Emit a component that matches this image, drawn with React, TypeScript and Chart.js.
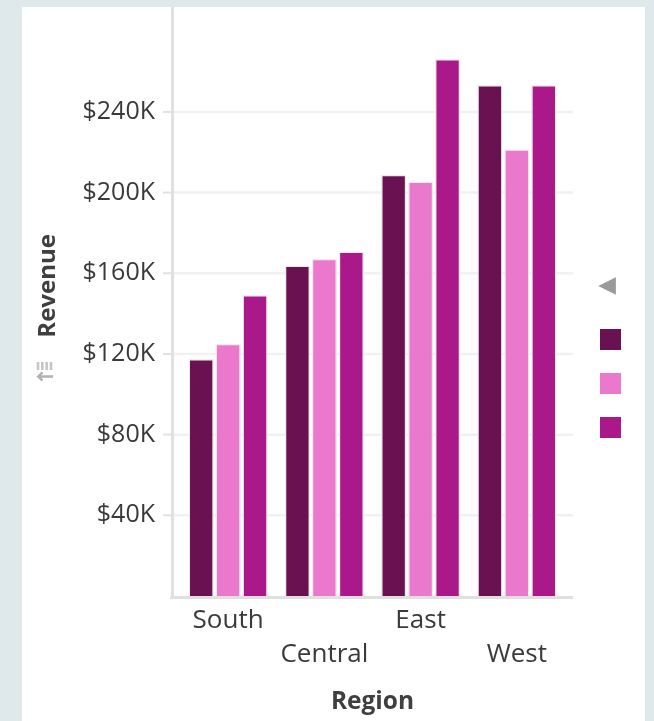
import React, { useEffect, useRef } from 'react';
import { Chart, registerables } from 'chart.js';

Chart.register(...registerables);

// ---- data ----
const categories = ['South', 'Central', 'East', 'West'];
const seriesNames = ['Series 1', 'Series 2', 'Series 3'];
const series1 = [117500, 163800, 208800, 253300];
const series2 = [125000, 167200, 205500, 221500];
const series3 = [149200, 170800, 266200, 253300];
const yTicks = [40000, 80000, 120000, 160000, 200000, 240000];
const yMax = 292000;
const colors = ['#6a1152', '#ea78cc', '#ab1889'];

const TEXT = '#3a3a3a';
const TITLE = '#3f3f3f';
const FONT = "'Open Sans', 'Noto Sans', sans-serif";

const decorPlugin = {
  id: 'decor',
  beforeDatasetsDraw(chart: any) {
    const { ctx, chartArea: a, scales } = chart;
    const y = scales.y;
    ctx.save();
    ctx.strokeStyle = '#f1f1f1';
    ctx.lineWidth = 2.5;
    y.ticks.forEach((t: any) => {
      const py = y.getPixelForValue(t.value);
      ctx.beginPath();
      ctx.moveTo(a.left - 7, py);
      ctx.lineTo(a.right + 8, py);
      ctx.stroke();
    });
    ctx.restore();
  },
  afterDatasetsDraw(chart: any) {
    const { ctx, chartArea: a, scales } = chart;
    const y = scales.y;
    ctx.save();
    // tick marks
    ctx.strokeStyle = '#e2e2e2';
    ctx.lineWidth = 2;
    y.ticks.forEach((t: any) => {
      const py = y.getPixelForValue(t.value);
      ctx.beginPath();
      ctx.moveTo(a.left - 17, py);
      ctx.lineTo(a.left - 9, py);
      ctx.stroke();
    });
    // axis lines
    ctx.strokeStyle = '#e0e0e0';
    ctx.lineWidth = 3;
    ctx.beginPath();
    ctx.moveTo(a.left - 7.5, a.top);
    ctx.lineTo(a.left - 7.5, a.bottom + 3);
    ctx.stroke();
    ctx.beginPath();
    ctx.moveTo(a.left - 10, a.bottom + 1.5);
    ctx.lineTo(a.right + 8, a.bottom + 1.5);
    ctx.stroke();
    // sort icon under the y title
    ctx.fillStyle = '#c6c6c6';
    for (let i = 0; i < 4; i++) {
      ctx.fillRect(14.7 + i * 4.33, 355, 2.6, 8);
    }
    ctx.strokeStyle = '#b2b2b2';
    ctx.lineWidth = 2.4;
    ctx.beginPath();
    ctx.moveTo(16.5, 369.5);
    ctx.lineTo(31, 369.5);
    ctx.moveTo(20.5, 365.3);
    ctx.lineTo(16.2, 369.5);
    ctx.lineTo(20.5, 373.7);
    ctx.stroke();
    ctx.restore();
  },
};

export default function App() {
  const ref = useRef<HTMLCanvasElement | null>(null);

  useEffect(() => {
    if (!ref.current) return;
    const seriesValues = [series1, series2, series3];
    const chart = new Chart(ref.current, {
      type: 'bar',
      data: {
        labels: categories,
        datasets: seriesNames.map((name, i) => ({
          label: name,
          data: seriesValues[i],
          backgroundColor: colors[i],
          borderColor: '#ececec',
          borderWidth: 1.5,
          categoryPercentage: 0.84,
          barPercentage: 0.94,
        })),
      },
      options: {
        animation: false,
        responsive: false,
        devicePixelRatio: 1,
        layout: { padding: { left: 0, top: 0, right: 8, bottom: 0 } },
        plugins: {
          tooltip: { enabled: false },
          legend: {
            display: true,
            position: 'right',
            align: 'center',
            title: {
              display: true,
              text: '◀',
              color: '#9a9a9a',
              font: { family: "'DejaVu Sans', sans-serif", size: 23, lineHeight: 1.2 },
              padding: { top: 8, bottom: 3.4 },
            },
            labels: {
              boxWidth: 21,
              boxHeight: 21,
              padding: 23,
              font: { size: 12, family: FONT },
              generateLabels: (c: any) =>
                Chart.defaults.plugins.legend.labels
                  .generateLabels(c)
                  .map((it: any) => ({ ...it, text: '', lineWidth: 0 })),
            },
          },
        },
        scales: {
          x: {
            grid: { display: false, drawTicks: false },
            border: { display: false },
            ticks: {
              autoSkip: false,
              maxRotation: 0,
              minRotation: 0,
              padding: 8,
              color: TEXT,
              font: { family: FONT, size: 26, lineHeight: 1.285 },
              callback: (_v: any, i: number) => (i % 2 === 1 ? ['', categories[i]] : categories[i]),
            },
            title: {
              display: true,
              text: 'Region',
              color: TITLE,
              font: { family: FONT, size: 24.5, weight: 'bold', lineHeight: 1.2 },
              padding: { top: 0, bottom: 4 },
            },
            afterFit: (s: any) => {
              s.height = 125;
              s.paddingLeft = 0;
              s.paddingRight = 0;
            },
          },
          y: {
            type: 'linear',
            min: 0,
            max: yMax,
            grid: { display: false, drawTicks: false },
            border: { display: false },
            afterBuildTicks: (s: any) => {
              s.ticks = yTicks.map((v) => ({ value: v }));
            },
            ticks: {
              padding: 25,
              color: TEXT,
              font: { family: FONT, size: 25, lineHeight: 1.2 },
              callback: (v: any) => '$' + Number(v) / 1000 + 'K',
            },
            title: {
              display: true,
              text: '     Revenue',
              color: TITLE,
              font: { family: FONT, size: 24, weight: 'bold', lineHeight: 1.2 },
              padding: { top: 11.6, bottom: 0 },
            },
            afterFit: (s: any) => {
              s.width = 158;
              s.paddingTop = 0;
              s.paddingBottom = 0;
            },
          },
          pad: {
            type: 'linear',
            position: 'right',
            display: true,
            grid: { display: false, drawTicks: false },
            border: { display: false },
            ticks: { display: false },
            afterFit: (s: any) => {
              s.width = 12;
              s.paddingTop = 0;
              s.paddingBottom = 0;
            },
          },
        },
      } as any,
      plugins: [decorPlugin],
    });
    return () => chart.destroy();
  }, []);

  return (
    <div
      style={{
        position: 'fixed',
        left: 0,
        top: 0,
        width: 654,
        height: 721,
        background: '#dfe9ec',
        overflow: 'hidden',
      }}
    >
      <div
        style={{
          position: 'absolute',
          left: 22,
          top: 7,
          width: 623,
          height: 714,
          background: '#ffffff',
        }}
      >
        <canvas ref={ref} width={623} height={714} style={{ display: 'block', width: 623, height: 714 }} />
      </div>
    </div>
  );
}
